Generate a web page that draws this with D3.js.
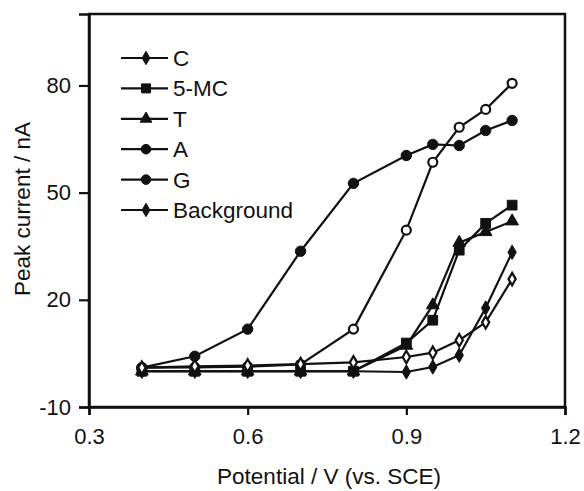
<!DOCTYPE html>
<html><head><meta charset="utf-8">
<script src="https://cdn.jsdelivr.net/npm/d3@7/dist/d3.min.js"></script>
<style>body{margin:0;background:#fff}svg{display:block}text{font-family:"Liberation Sans",Arial,sans-serif;fill:#111}</style>
</head><body>
<svg id="c" width="584" height="491"></svg>
<script>
const potentials = [0.4, 0.5, 0.6, 0.7, 0.8, 0.9, 0.95, 1.0, 1.05, 1.1];
const seriesNames = ["C", "5-MC", "T", "A", "G", "Background"];
const valuesC  = [0, 0, 0, 0, 0, -0.2, 1.2, 4.5, 17.7, 33.3];
const values5MC = [0, 0, 0, 0, 0, 7.9, 14.3, 33.9, 41.4, 46.5];
const valuesT  = [0, 0, 0, 0, 0, 7.2, 18.5, 36.0, 39.0, 42.0];
const valuesA  = [1.0, 4.2, 11.8, 33.6, 52.6, 60.4, 63.5, 63.2, 67.4, 70.2];
const valuesG  = [1.0, 1.1, 1.3, 1.9, 11.8, 39.5, 58.5, 68.3, 73.3, 80.6];
const valuesBg = [1.0, 1.4, 1.6, 2.0, 2.5, 4.0, 5.2, 8.7, 13.7, 25.8];
const xTicks = [0.3, 0.6, 0.9, 1.2];
const yTicks = [-10, 20, 50, 80];

const markers = ["diamond", "square", "triangle", "circle", "circle", "diamond"];
const hollow  = [false, false, false, false, true, true];
const allValues = [valuesC, values5MC, valuesT, valuesA, valuesG, valuesBg];

const svg = d3.select("#c");
const L = 89, R = 565, T = 14, B = 407;
const x = d3.scaleLinear().domain([0.3, 1.2]).range([L, R]);
const y = d3.scaleLinear().domain([-10, 100]).range([B, T]);

const symType = {diamond: d3.symbolDiamond, square: d3.symbolSquare, triangle: d3.symbolTriangle, circle: d3.symbolCircle};
const symSize = {diamond: 60, square: 95, triangle: 70, circle: 85};

// frame
svg.append("rect").attr("x", L).attr("y", T).attr("width", R - L).attr("height", B - T)
  .attr("fill", "none").attr("stroke", "#111").attr("stroke-width", 2.5);

// axes
const xAxis = svg.append("g").attr("transform", `translate(0,${B})`)
  .call(d3.axisBottom(x).tickValues(xTicks).tickFormat(d3.format(".1f")).tickSize(8).tickPadding(13));
const yAxis = svg.append("g").attr("transform", `translate(${L},0)`)
  .call(d3.axisLeft(y).tickValues(yTicks).tickFormat(d => String(d)).tickSize(10).tickPadding(8));
[xAxis, yAxis].forEach(a => {
  a.select(".domain").attr("stroke", "#111").attr("stroke-width", 2.5);
  a.selectAll(".tick line").attr("stroke", "#111").attr("stroke-width", 2.2);
  a.selectAll(".tick text").style("font-size", "22px").attr("fill", "#111");
});

// axis titles
svg.append("text").attr("x", (L + R) / 2 + 2).attr("y", 484).attr("text-anchor", "middle")
  .style("font-size", "22.5px").text("Potential / V (vs. SCE)");
svg.append("text").attr("transform", `translate(30,209) rotate(-90)`).attr("text-anchor", "middle")
  .style("font-size", "22.5px").text("Peak current / nA");

// series
const line = d3.line().x((d, i) => x(potentials[i])).y(d => y(d));
seriesNames.forEach((name, s) => {
  const g = svg.append("g");
  g.append("path").datum(allValues[s]).attr("d", line)
    .attr("fill", "none").attr("stroke", "#111").attr("stroke-width", 2.2);
  const sym = d3.symbol().type(symType[markers[s]]).size(hollow[s] ? symSize[markers[s]] * 0.75 : symSize[markers[s]]);
  g.selectAll("path.m").data(allValues[s]).join("path").attr("class", "m")
    .attr("d", sym)
    .attr("transform", (d, i) => `translate(${x(potentials[i])},${y(d)})`)
    .attr("fill", hollow[s] ? "#fff" : "#111")
    .attr("stroke", "#111").attr("stroke-width", hollow[s] ? 2.2 : 1);
});

// legend
const leg = svg.append("g");
seriesNames.forEach((name, s) => {
  const yy = 58 + s * 30.4;
  leg.append("line").attr("x1", 121).attr("x2", 168).attr("y1", yy).attr("y2", yy)
    .attr("stroke", "#111").attr("stroke-width", 2.2);
  leg.append("path").attr("d", d3.symbol().type(symType[markers[s]]).size(symSize[markers[s]] * 0.85)())
    .attr("transform", `translate(146,${yy})`).attr("fill", "#111").attr("stroke", "#111");
  leg.append("text").attr("x", 173).attr("y", yy + 8).style("font-size", "22.5px").text(name);
});
</script>
</body></html>
